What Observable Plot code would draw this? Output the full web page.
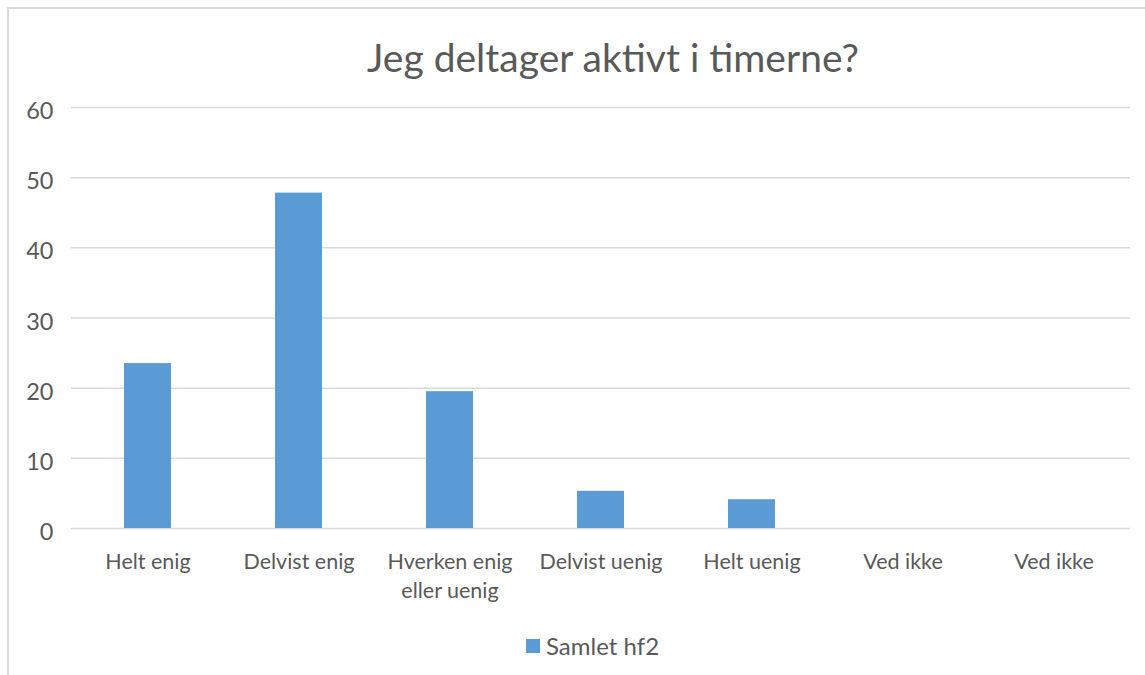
<!DOCTYPE html>
<html>
<head>
<meta charset="utf-8">
<script src="https://cdn.jsdelivr.net/npm/d3@7"></script>
<script src="https://cdn.jsdelivr.net/npm/@observablehq/plot@0.6"></script>
<style>
  html, body { margin: 0; padding: 0; background: #fff; overflow: hidden; }
  #wrap { position: relative; width: 1145px; height: 675px; overflow: hidden; font-family: Lato, "Open Sans", sans-serif; color: #595959; }
  #frame { position: absolute; left: 7px; top: 7px; width: 1160px; height: 700px; border: 2px solid #d9d9d9; box-sizing: border-box; }
  #title { position: absolute; left: 0; top: 34px; width: 1226px; text-align: center; font-size: 39px; color: #595959; }
  #chart { position: absolute; left: 0; top: 0; }
  #legend { position: absolute; left: 526px; top: 631px; font-size: 24px; display: flex; align-items: center; gap: 6px; color: #595959; }
  #legend .sw { width: 14px; height: 14px; background: #5b9bd5; }
</style>
</head>
<body>
<div id="wrap">
  <div id="frame"></div>
  <div id="title">Jeg deltager aktivt i timerne?</div>
  <div id="chart"></div>
  <div id="legend"><span class="sw"></span><span>Samlet hf2</span></div>
</div>
<script>
const categories = ["Helt enig", "Delvist enig", "Hverken enig\neller uenig", "Delvist uenig", "Helt uenig", "Ved ikke", "Ved ikke"];
const values = [23.5, 47.8, 19.5, 5.3, 4.1, 0, 0];
const yTicks = [0, 10, 20, 30, 40, 50, 60];
const seriesName = "Samlet hf2";

const data = categories.map((c, i) => ({idx: i, label: c, value: values[i], series: seriesName}));

const chart = Plot.plot({
  width: 1145,
  height: 675,
  marginLeft: 71,
  marginRight: 15,
  marginTop: 107,
  marginBottom: 147,
  style: {fontFamily: "Lato, 'Open Sans', sans-serif", fontSize: "20px", color: "#595959", background: "transparent"},
  x: {domain: d3.range(categories.length), paddingInner: 0.69, paddingOuter: 0.345, axis: null},
  y: {domain: [0, 60], axis: null},
  marks: [
    Plot.ruleY(yTicks, {stroke: "#d9d9d9", strokeWidth: 1.5, strokeOpacity: 1}),
    Plot.barY(data, {x: "idx", y: "value", fill: "#5b9bd5"}),
    Plot.axisY({ticks: yTicks, tickSize: 0, tickPadding: 18, dy: 4, fontSize: 23.5, fill: "#595959", label: null}),
    Plot.axisX({tickSize: 0, tickPadding: 20, fontSize: 21.5, fill: "#595959", lineHeight: 1.35, tickFormat: i => categories[i], label: null})
  ]
});
document.getElementById("chart").appendChild(chart);
</script>
</body>
</html>
